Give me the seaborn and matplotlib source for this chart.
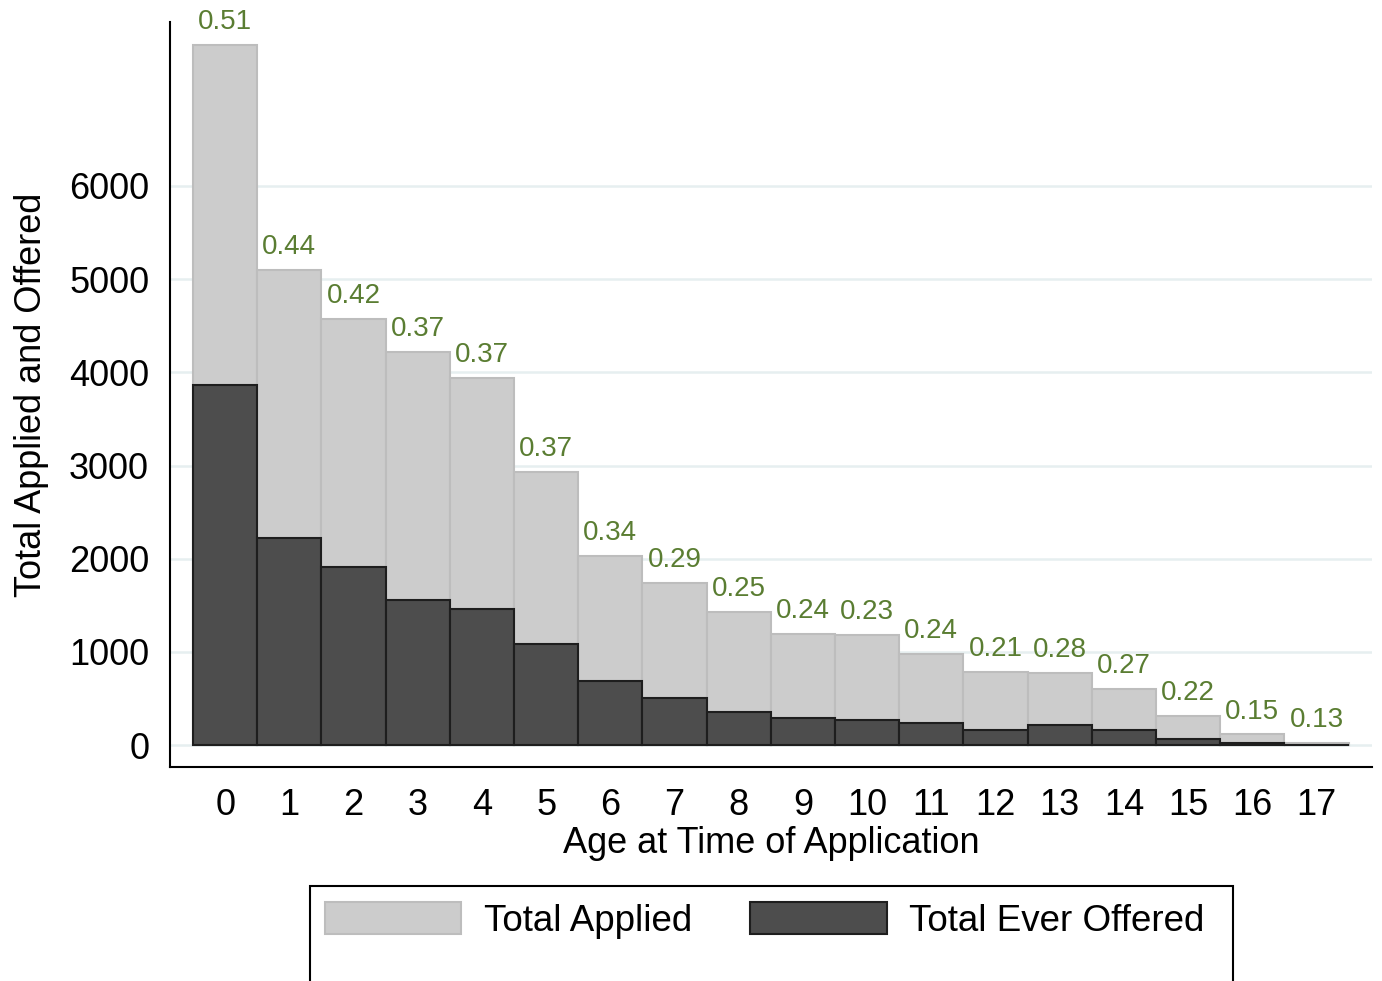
import pandas as pd
import seaborn as sns
import matplotlib.pyplot as plt
from matplotlib.patches import Patch, Rectangle


# ---------------------------------------------------------
# data
# ---------------------------------------------------------
ages = list(range(18))
total_applied = [7513, 5098, 4572, 4218, 3939, 2930, 2029, 1739, 1427,
                 1191, 1181, 977, 784, 773, 601, 311, 115, 23]
total_offered = [3864, 2222, 1910, 1560, 1458, 1085, 687, 504, 354,
                 290, 270, 234, 161, 216, 162, 68, 17, 3]
offer_rate = ["0.51", "0.44", "0.42", "0.37", "0.37", "0.37", "0.34", "0.29", "0.25",
              "0.24", "0.23", "0.24", "0.21", "0.28", "0.27", "0.22", "0.15", "0.13"]
y_ticks = [0, 1000, 2000, 3000, 4000, 5000, 6000]

df = pd.DataFrame({"age": ages, "applied": total_applied, "offered": total_offered})

# ---------------------------------------------------------
# style
# ---------------------------------------------------------
sns.set_style("white")
plt.rcParams["font.family"] = ["Liberation Sans", "DejaVu Sans"]
plt.rcParams.update({"text.color": "black", "axes.labelcolor": "black",
                     "xtick.color": "black", "ytick.color": "black"})

LIGHT = "#cccccc"
DARK = "#4d4d4d"
GREEN = "#5a7d32"
GRID = "#e6eff0"

fig = plt.figure(figsize=(13.82, 9.81), dpi=100)
ax = fig.add_axes([0.123, 0.2181, 0.870, 0.7595])

sns.barplot(data=df, x="age", y="applied", color=LIGHT, saturation=1,
            width=1, edgecolor="#bdbdbd", linewidth=1.5, ax=ax)
sns.barplot(data=df, x="age", y="offered", color=DARK, saturation=1,
            width=1, edgecolor="#1e1e1e", linewidth=1.5, ax=ax)

# offer-rate labels above each applied bar
for i, (val, lab) in enumerate(zip(total_applied, offer_rate)):
    ax.annotate(lab, (i, val), xytext=(0, 7), textcoords="offset points",
                ha="center", va="bottom", fontsize=20, color=GREEN)

ax.set_xlim(-0.86, 17.87)
ax.set_ylim(-236, 7760)
ax.set_yticks(y_ticks)
ax.set_yticklabels([str(t) for t in y_ticks])

ax.set_axisbelow(True)
ax.grid(axis="y", color=GRID, linewidth=1.8)
ax.grid(axis="x", visible=False)

sns.despine(ax=ax)
for side in ["left", "bottom"]:
    ax.spines[side].set_linewidth(1.5)
    ax.spines[side].set_color("black")

ax.tick_params(axis="both", labelsize=26, length=11, width=1.5,
               direction="out", colors="black", pad=4)
ax.set_xlabel("Age at Time of Application", fontsize=26, labelpad=2)
ax.set_ylabel("Total Applied and Offered", fontsize=26, labelpad=14)

# legend (frame cut by figure bottom, as in the reference)
handles = [Patch(facecolor=LIGHT, edgecolor="#bdbdbd", linewidth=1.5, label="Total Applied"),
           Patch(facecolor=DARK, edgecolor="#1e1e1e", linewidth=1.5, label="Total Ever Offered")]
fig.legend(handles=handles, ncol=2, frameon=False, fontsize=26.5,
           loc="upper left", bbox_to_anchor=(0.2352, 0.0805),
           handlelength=3.7, handleheight=0.95, handletextpad=0.62,
           columnspacing=1.58, borderpad=0, borderaxespad=0)
fig.patches.append(Rectangle((310 / 1382, -0.02), 923 / 1382, 0.097 + 0.02,
                             transform=fig.transFigure, fill=False,
                             edgecolor="black", linewidth=1.5))

fig.savefig("out.png", dpi=100)
